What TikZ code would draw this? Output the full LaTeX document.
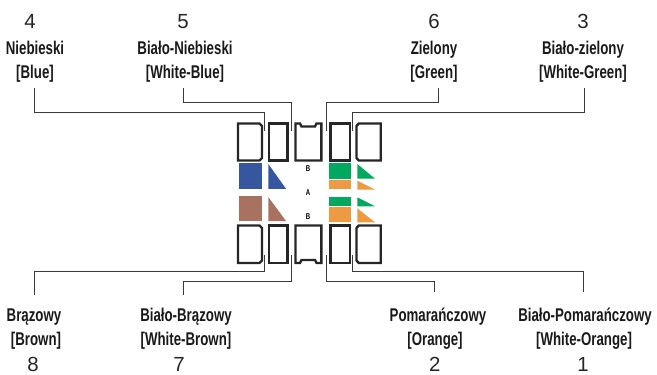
\documentclass[tikz,border=0pt]{standalone}
\usepackage{fontspec}
\setmainfont{Liberation Sans}
\newfontfamily\condbold[FakeStretch=0.72]{Liberation Sans Bold}
\definecolor{cblue}{HTML}{36579F}
\definecolor{cbrown}{HTML}{A97160}
\definecolor{cgreen}{HTML}{00A860}
\definecolor{corange}{HTML}{EE9A42}
\definecolor{cline}{HTML}{3A3A3A}
\definecolor{cbox}{HTML}{262626}
\tikzset{
  x=1bp,y=-1bp,
  pinnum/.style={anchor=base,inner sep=0pt,font=\fontsize{20.5}{20.5}\selectfont,text=black!85},
  wirelabel/.style={anchor=base,inner sep=0pt,font=\condbold\fontsize{18.5}{18.5}\selectfont,text=black!90},
  tinylabel/.style={anchor=center,inner sep=0pt,font=\condbold\fontsize{8.5}{8.5}\selectfont},
  wire/.style={draw=cline,line width=0.75bp},
  pinbox/.style={draw=cbox,line width=2.4bp,line join=miter,fill=white},
}
\begin{document}
\begin{tikzpicture}
\useasboundingbox (0,0) rectangle (657,374);
% pin boxes, top row
\draw[pinbox] (238,123.5) -- (259.5,123.5) -- (262,126) -- (262,158) -- (259.5,160.5) -- (238,160.5) -- cycle;
\draw[pinbox] (269,123.5) rectangle (287.3,160.5);
\draw[pinbox] (295.5,123.5) -- (300,123.5) -- (301.5,126.5) -- (315,126.5) -- (316.5,123.5) -- (321.3,123.5) -- (321.3,160.5) -- (295.5,160.5) -- cycle;
\draw[pinbox] (330.5,123.5) rectangle (349.8,160.5);
\draw[pinbox] (358.7,123.5) -- (380.7,123.5) -- (380.7,160.5) -- (358.7,160.5) -- (356.5,158) -- (356.5,126) -- cycle;
% pin boxes, bottom row
\draw[pinbox] (238,225.5) -- (259.5,225.5) -- (262,228) -- (262,260.5) -- (259.5,263) -- (238,263) -- cycle;
\draw[pinbox] (269,225.5) rectangle (287.3,263);
\draw[pinbox] (295.5,225.5) -- (321.3,225.5) -- (321.3,263) -- (316.5,263) -- (315,260) -- (301.5,260) -- (300,263) -- (295.5,263) -- cycle;
\draw[pinbox] (330.5,225.5) rectangle (349.8,263);
\draw[pinbox] (358.7,225.5) -- (380.7,225.5) -- (380.7,263) -- (358.7,263) -- (356.5,260.5) -- (356.5,228) -- cycle;
% colour swatches
\fill[cblue] (239.3,163.3) rectangle (261.7,188.8);
\fill[cblue] (268.3,164) -- (286,188.8) -- (268.3,188.8) -- cycle;
\fill[cbrown] (239.3,195.7) rectangle (261.7,221);
\fill[cbrown] (268.3,197) -- (286,221) -- (268.3,221) -- cycle;
\fill[cgreen] (328.7,163.3) rectangle (351,178.7);
\fill[corange] (328.7,180) rectangle (351,189);
\fill[cgreen] (357.3,164) -- (375,178.7) -- (357.3,178.7) -- cycle;
\fill[corange] (357.3,180.7) -- (375,189.5) -- (357.3,189.5) -- cycle;
\fill[cgreen] (328.7,196.7) rectangle (351,205.7);
\fill[corange] (328.7,207.3) rectangle (351,222);
\fill[cgreen] (357.3,197.3) -- (375,206.3) -- (357.3,206.3) -- cycle;
\fill[corange] (357.3,208.3) -- (375,222.3) -- (357.3,222.3) -- cycle;
% tiny labels
\node[tinylabel] (tb) at (308,169) {B};
\node[tinylabel] (ta) at (308,192.5) {A};
\node[tinylabel] (bb) at (308,217) {B};
% top labels
\node[pinnum] (n4) at (30,28) {4};
\node[wirelabel] (a4) at (35,54) {Niebieski};
\node[wirelabel] (b4) at (35,78) {[Blue]};
\node[pinnum] (n5) at (183,28) {5};
\node[wirelabel] (a5) at (185,54) {Biało-Niebieski};
\node[wirelabel] (b5) at (185,78) {[White-Blue]};
\node[pinnum] (n6) at (434,28) {6};
\node[wirelabel] (a6) at (434,54) {Zielony};
\node[wirelabel] (b6) at (434,78) {[Green]};
\node[pinnum] (n3) at (583,28) {3};
\node[wirelabel] (a3) at (583,54) {Biało-zielony};
\node[wirelabel] (b3) at (583,78) {[White-Green]};
% bottom labels
\node[wirelabel] (a8) at (34,321.5) {Brązowy};
\node[wirelabel] (b8) at (36,345) {[Brown]};
\node[pinnum] (n8) at (33,371) {8};
\node[wirelabel] (a7) at (186,321.5) {Biało-Brązowy};
\node[wirelabel] (b7) at (186,345) {[White-Brown]};
\node[pinnum] (n7) at (179,371) {7};
\node[wirelabel] (a2) at (438,321.5) {Pomarańczowy};
\node[wirelabel] (b2) at (435,345) {[Orange]};
\node[pinnum] (n2) at (434.7,371) {2};
\node[wirelabel] (a1) at (585,321.5) {Biało-Pomarańczowy};
\node[wirelabel] (b1) at (584,345) {[White-Orange]};
\node[pinnum] (n1) at (583,371) {1};
% connector ends
\coordinate (s4) at (34,88);   \coordinate (e4) at (264.8,130.7);
\coordinate (s5) at (183,88);  \coordinate (e5) at (291.7,130.7);
\coordinate (s6) at (438,88);  \coordinate (e6) at (326.3,130.7);
\coordinate (s3) at (584,88);  \coordinate (e3) at (352.7,130.7);
\coordinate (s8) at (34,295);  \coordinate (e8) at (264.8,255);
\coordinate (s7) at (183,295); \coordinate (e7) at (291.7,255);
\coordinate (s2) at (434.7,292); \coordinate (e2) at (326.3,255);
\coordinate (s1) at (583.7,292); \coordinate (e1) at (352.7,255);
% connectors
\draw[wire] (s4) -- (34,112.7) -| (e4);
\draw[wire] (s5) -- (183,102) -| (e5);
\draw[wire] (s6) -- (438,102) -| (e6);
\draw[wire] (s3) -- (584,112.7) -| (e3);
\draw[wire] (s8) -- (34,271) -| (e8);
\draw[wire] (s7) -- (183,281) -| (e7);
\draw[wire] (s2) -- (434.7,281) -| (e2);
\draw[wire] (s1) -- (583.7,271) -| (e1);
\end{tikzpicture}
\end{document}
